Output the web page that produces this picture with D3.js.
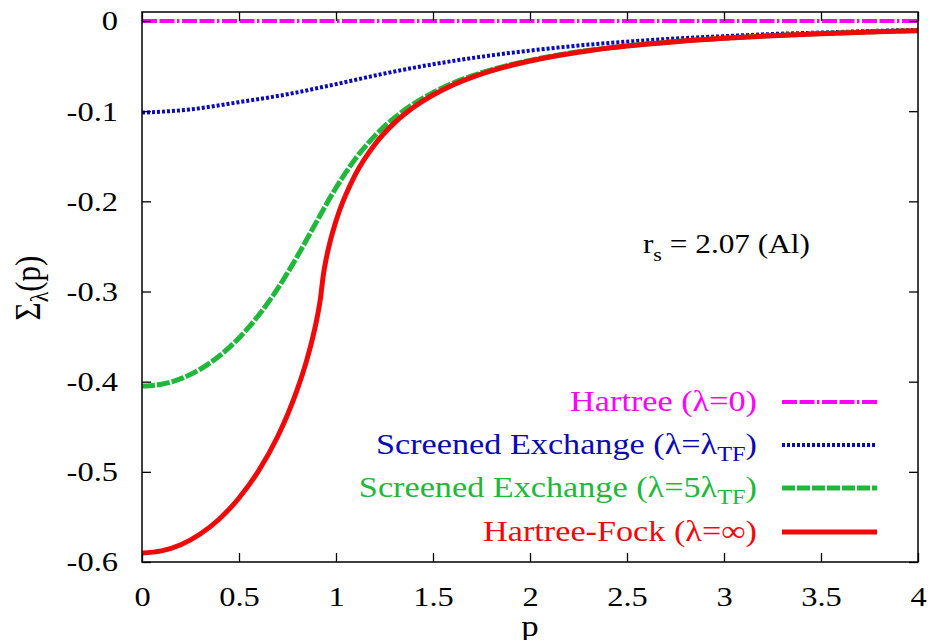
<!DOCTYPE html>
<html>
<head>
<meta charset="utf-8">
<script src="https://cdn.jsdelivr.net/npm/d3@7"></script>
<style>
  html, body { margin: 0; padding: 0; background: #fff; }
  svg { display: block; }
  text { font-family: "Liberation Serif", "Times New Roman", serif; }
</style>
</head>
<body>
<svg id="chart" width="933" height="640"></svg>
<script>
// Momentum grid and self-energy values Σλ(p) (Hartree units), r_s = 2.07 (Al)
const pHartree = [0, 4];
const sigmaHartree = [0, 0];

const pScreenedTF = [0, 0.25, 0.5, 0.75, 1.0, 1.25, 1.5, 1.75, 2.0, 2.25, 2.5, 2.75, 3.0, 3.25, 3.5, 3.75, 4.0];
const sigmaScreenedTF = [-0.1016, -0.0980, -0.0900, -0.0812, -0.0700, -0.0582, -0.0480, -0.0396, -0.0328, -0.0272,
                         -0.0229, -0.0194, -0.0168, -0.0144, -0.0128, -0.0111, -0.0098];

const pScreened5TF = [0, 0.1, 0.2, 0.3, 0.4, 0.5, 0.6, 0.7, 0.8, 0.9, 1.0, 1.1, 1.2, 1.3, 1.4, 1.5,
                      1.6, 1.7, 1.8, 1.9, 2.0, 2.25, 2.5, 2.75, 3.0, 3.25, 3.5, 3.75, 4.0];
const sigmaScreened5TF = [-0.4049, -0.4029, -0.3967, -0.3862, -0.3712, -0.3515, -0.3267, -0.2966, -0.2612, -0.2225,
                          -0.1849, -0.1528, -0.1274, -0.1075, -0.0919, -0.0794, -0.0691, -0.0609, -0.0541, -0.0484,
                          -0.0436, -0.0341, -0.0276, -0.0227, -0.0190, -0.0162, -0.0139, -0.0121, -0.0106];

const pHartreeFock = [0, 0.1, 0.2, 0.3, 0.4, 0.5, 0.6, 0.7, 0.75, 0.8, 0.85, 0.88, 0.9, 0.91, 0.92, 0.927, 0.935,
                      0.95, 0.97, 1.0, 1.1, 1.2, 1.3, 1.4, 1.5, 1.6, 1.7, 1.8, 1.9, 2.0, 2.25, 2.5, 2.75, 3.0,
                      3.25, 3.5, 3.75, 4.0];
const sigmaHartreeFock = [-0.5900, -0.5877, -0.5809, -0.5690, -0.5520, -0.5290, -0.4992, -0.4605, -0.4367, -0.4089,
                          -0.3755, -0.3511, -0.3318, -0.3206, -0.3075, -0.2951, -0.2812, -0.2632, -0.2444, -0.2218,
                          -0.1702, -0.1369, -0.1133, -0.0957, -0.0821, -0.0712, -0.0625, -0.0553, -0.0493, -0.0443,
                          -0.0346, -0.0278, -0.0229, -0.0192, -0.0163, -0.0140, -0.0122, -0.0107];

const xTicks = [0, 0.5, 1, 1.5, 2, 2.5, 3, 3.5, 4];
const xTickLabels = ["0", "0.5", "1", "1.5", "2", "2.5", "3", "3.5", "4"];
const yTicks = [0, -0.1, -0.2, -0.3, -0.4, -0.5, -0.6];
const yTickLabels = ["0", "-0.1", "-0.2", "-0.3", "-0.4", "-0.5", "-0.6"];

// ---- layout ----
const svg = d3.select("#chart");
const plotLeft = 142, plotRight = 918, plotTop = 12, plotBottom = 562;
const stretch = 1.16;   // text is set slightly wide

const x = d3.scaleLinear().domain([0, 4]).range([plotLeft, plotRight]);
const y = d3.scaleLinear().domain([-0.6, 0.01]).range([plotBottom, plotTop]);

const series = [
  { p: pHartree, v: sigmaHartree, color: "#ff00ff", width: 4, dash: "15,2.5,15,2.5,2.5,2.5" },
  { p: pScreenedTF, v: sigmaScreenedTF, color: "#0a0ab4", width: 4, dash: "3,2" },
  { p: pScreened5TF, v: sigmaScreened5TF, color: "#1fb83a", width: 5, dash: "13,2" },
  { p: pHartreeFock, v: sigmaHartreeFock, color: "#ee0a0a", width: 5, dash: null }
];

svg.append("defs").append("clipPath").attr("id", "plot-clip")
  .append("rect").attr("x", plotLeft).attr("y", plotTop)
  .attr("width", plotRight - plotLeft).attr("height", plotBottom - plotTop);

const line = d3.line()
  .x((d) => x(d[0]))
  .y((d) => y(d[1]))
  .curve(d3.curveMonotoneX);

const curves = svg.append("g").attr("clip-path", "url(#plot-clip)");
series.forEach((s) => {
  curves.append("path")
    .datum(s.p.map((p, i) => [p, s.v[i]]))
    .attr("d", line)
    .attr("fill", "none")
    .attr("stroke", s.color)
    .attr("stroke-width", s.width)
    .attr("stroke-dasharray", s.dash)
    .attr("stroke-linejoin", "round");
});

// ---- axes: inward ticks on all four sides ----
const tickFont = 28;
function styleAxis(g) {
  g.select(".domain").remove();
  g.selectAll(".tick line").attr("stroke", "#000").attr("stroke-width", 1.3);
  g.selectAll(".tick text").attr("fill", "#000").style("font-size", tickFont + "px")
    .style("font-family", '"Liberation Serif", "Times New Roman", serif')
    .each(function () {
      const t = d3.select(this);
      const x0 = +t.attr("x") || 0;
      t.attr("x", x0 / stretch).attr("transform", `scale(${stretch},1)`);
    });
}

svg.append("g").attr("transform", `translate(0,${plotBottom})`)
  .call(d3.axisBottom(x).tickValues(xTicks).tickFormat((d, i) => xTickLabels[i]).tickSize(-9).tickPadding(24))
  .call(styleAxis);
svg.append("g").attr("transform", `translate(0,${plotTop})`)
  .call(d3.axisTop(x).tickValues(xTicks).tickFormat("").tickSize(-9))
  .call(styleAxis);
svg.append("g").attr("transform", `translate(${plotLeft},0)`)
  .call(d3.axisLeft(y).tickValues(yTicks).tickFormat((d, i) => yTickLabels[i]).tickSize(-9).tickPadding(24))
  .call(styleAxis);
svg.append("g").attr("transform", `translate(${plotRight},0)`)
  .call(d3.axisRight(y).tickValues(yTicks).tickFormat("").tickSize(-9))
  .call(styleAxis);

// frame
svg.append("rect")
  .attr("x", plotLeft).attr("y", plotTop)
  .attr("width", plotRight - plotLeft).attr("height", plotBottom - plotTop)
  .attr("fill", "none").attr("stroke", "#000").attr("stroke-width", 1.5);

// ---- axis titles ----
svg.append("text")
  .attr("transform", `translate(${(plotLeft + plotRight) / 2},636) scale(${stretch},1)`)
  .attr("text-anchor", "middle").style("font-size", "30px").text("p");

const yTitle = svg.append("text")
  .attr("transform", `translate(40,288) scale(${stretch},1) rotate(-90)`)
  .attr("text-anchor", "middle").style("font-size", "31px");
yTitle.append("tspan").text("Σ");
yTitle.append("tspan").attr("dy", 7).style("font-size", "22px").text("λ");
yTitle.append("tspan").attr("dy", -7).text("(p)");

// ---- r_s annotation ----
const rs = svg.append("text")
  .attr("transform", `translate(810,253) scale(${stretch},1)`)
  .attr("text-anchor", "end")
  .style("font-size", "27px").attr("fill", "#000");
rs.append("tspan").text("r");
rs.append("tspan").attr("dy", 8).style("font-size", "19px").text("s");
rs.append("tspan").attr("dy", -8).text(" = 2.07 (Al)");

// ---- legend ----
const legendRows = [
  { y: 402, parts: [["Hartree (λ=0)", 0]] },
  { y: 445, parts: [["Screened Exchange (λ=λ", 0], ["TF", 1], [")", 0]] },
  { y: 488, parts: [["Screened Exchange (λ=5λ", 0], ["TF", 1], [")", 0]] },
  { y: 532, parts: [["Hartree-Fock (λ=∞)", 0]] }
];
const legendFont = 29.5;
legendRows.forEach((row, i) => {
  const s = series[i];
  const t = svg.append("text")
    .attr("transform", `translate(757,${row.y + 9}) scale(${stretch},1)`)
    .attr("text-anchor", "end")
    .attr("fill", s.color)
    .style("font-size", legendFont + "px");
  let shifted = 0;
  row.parts.forEach(([str, sub]) => {
    const dy = sub ? 7 : -shifted;
    shifted = sub ? 7 : 0;
    t.append("tspan").attr("dy", dy).style("font-size", (sub ? 21 : legendFont) + "px").text(str);
  });
  svg.append("line")
    .attr("x1", 782).attr("x2", 877).attr("y1", row.y).attr("y2", row.y)
    .attr("stroke", s.color).attr("stroke-width", s.width)
    .attr("stroke-dasharray", s.dash);
});
</script>
</body>
</html>
